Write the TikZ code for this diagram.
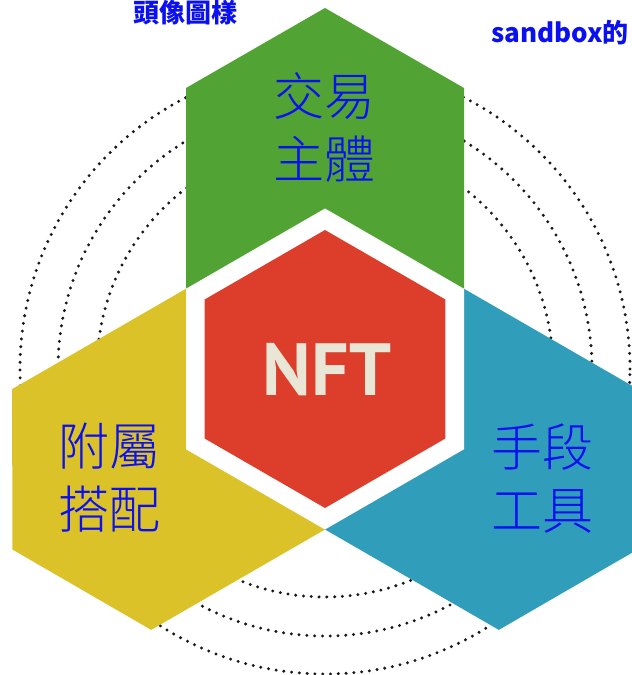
\documentclass[tikz,border=0pt]{standalone}
\usepackage{fontspec}
\usepackage{xcolor}
\usepackage{tikz}
\usetikzlibrary{calc}
\newfontfamily\cjk{Noto Sans CJK TC}
\newfontfamily\cjklight{Noto Sans CJK TC Light}
\newfontfamily\nftfont{PT Sans}
\definecolor{petalgreen}{HTML}{51A433}
\definecolor{petalyellow}{HTML}{DCC229}
\definecolor{petalblue}{HTML}{309EBB}
\definecolor{nftred}{HTML}{DC3E2B}
\definecolor{nftcream}{HTML}{EAE6D6}
\definecolor{labelblue}{HTML}{0A10F0}

\begin{document}
\begin{tikzpicture}[x=1pt,y=1pt,
    ring/.style={black!90, line width=3.3pt, line cap=round, dash pattern=on 0pt off 7.8pt},
    petallabel/.style={text=labelblue, align=center, inner sep=0pt, font=\cjklight\fontsize{51}{63}\selectfont},
    toplabel/.style={text=labelblue, inner sep=0pt, font=\cjk\bfseries\fontsize{26}{30}\selectfont}]
    \useasboundingbox (0,0) rectangle (632,675);
    \clip (0,0) rectangle (632,675);
    \coordinate (c) at (325,306);
    % dotted rings behind everything
    \foreach \r in {228,267,305}
        \draw[ring] (c) circle (\r pt);
    % three petals meeting in the centre
    \foreach \ang/\col in {0/petalgreen,120/petalyellow,-120/petalblue}{
        \begin{scope}[shift={(c)}, rotate=\ang]
            \fill[\col] (0,0) -- (139,80) -- (139,281) -- (0,361) -- (-139,281) -- (-139,80) -- cycle;
        \end{scope}
    }
    % white frame and red core
    \begin{scope}[shift={(c)}]
        \fill[white] (90:160.5) -- (150:160.5) -- (210:160.5) -- (270:160.5) -- (330:160.5) -- (30:160.5) -- cycle;
        \fill[nftred] (90:139) -- (150:139) -- (210:139) -- (270:139) -- (330:139) -- (30:139) -- cycle;
    \end{scope}
    \node[text=nftcream, inner sep=0pt, font=\nftfont\bfseries\fontsize{74}{78}\selectfont] (nft) at (327,305) {NFT};
    \node[petallabel] (deal) at (324,547) {交易\\主體};
    \node[petallabel] (extra) at (109,197) {附屬\\搭配};
    \node[petallabel] (tool) at (542,196) {手段\\工具};
    \node[toplabel] (avatar) at (185,662) {頭像圖樣};
    \node[toplabel, anchor=base west] (sandbox) at (491,632) {sandbox的};
\end{tikzpicture}
\end{document}
